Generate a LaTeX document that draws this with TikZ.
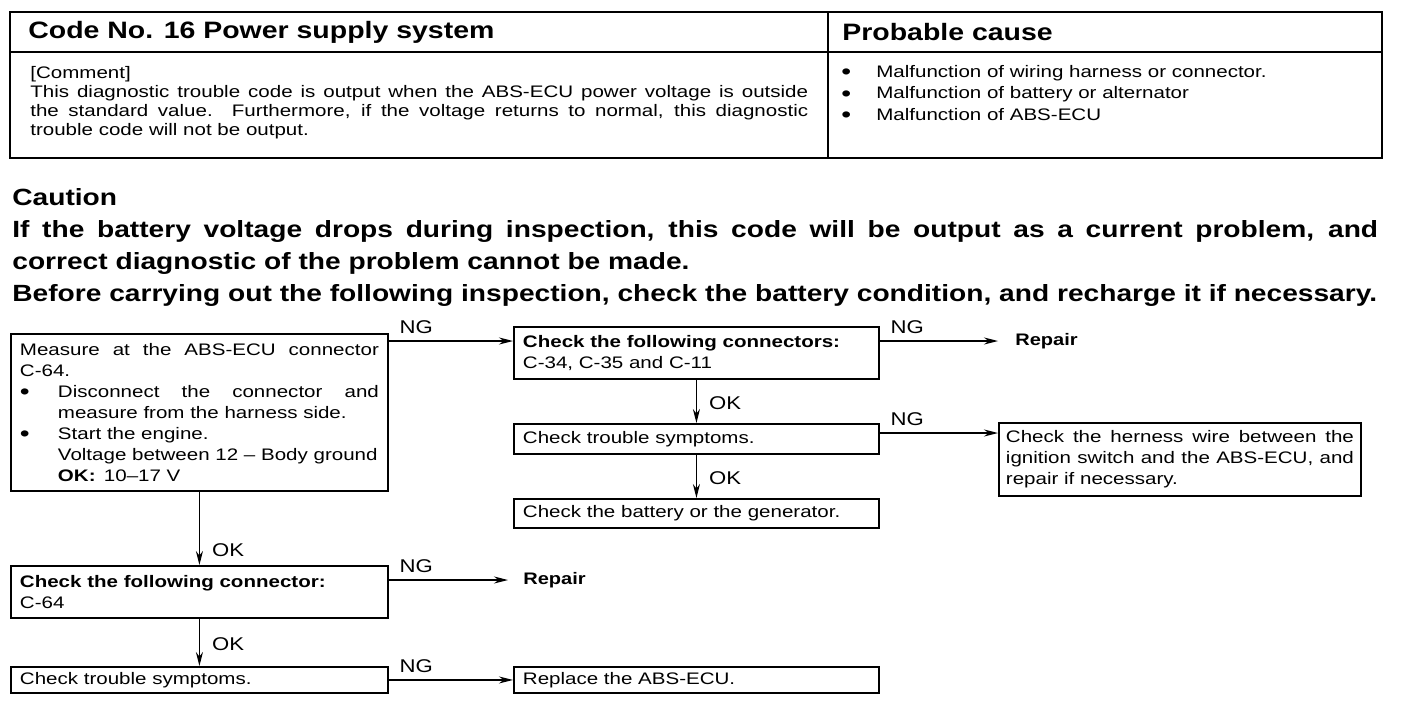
\documentclass[tikz,border=0pt]{standalone}
\usepackage{fontspec}
\setmainfont{Liberation Sans}[FakeStretch=1.23]
\newfontfamily\headfont{Liberation Sans}[FakeStretch=1.2]
\usepackage{tikz}
\usetikzlibrary{positioning,arrows.meta,calc}
\hyphenpenalty=10000
\exhyphenpenalty=10000
\tikzset{
  node-box/.style={draw,line width=1.1pt,anchor=north west,align=justify,
    inner xsep=0.18cm,inner ysep=0.05cm,font=\fontsize{9.5}{12}\selectfont},
  node-text/.style={anchor=north west,inner sep=0pt,align=justify},
  node-end/.style={anchor=west,inner sep=0.04cm,font=\headfont\bfseries\fontsize{9.5}{12}\selectfont},
  lbl-ng/.style={anchor=south west,inner sep=0.04cm,xshift=0.16cm,yshift=0.1cm,
    font=\headfont\fontsize{10.5}{12}\selectfont},
  lbl-ok/.style={anchor=west,inner sep=0.04cm,xshift=0.2cm,yshift=-0.04cm,
    font=\headfont\fontsize{10.5}{12}\selectfont},
  arrow/.style={-{Stealth[length=2.8mm,width=1.4mm]},line width=0.8pt},
  tbl-line/.style={line width=1.2pt},
}
% bullet item with hanging indent
\newcommand{\bdot}{\smash{\fontsize{13}{0}\selectfont\raisebox{-0.2ex}{\textbullet}}}
\newcommand{\bitem}[1]{\par\hangindent=0.76cm\noindent\makebox[0.76cm][l]{\bdot}#1\par}
\newcommand{\bmark}{\makebox[0.7cm][l]{\bdot}}

\begin{document}
\begin{tikzpicture}[x=0.02cm,y=-0.02cm]
  \useasboundingbox (0,0) rectangle (1408,710);

  % table at the top
  \draw[tbl-line] (10,12) rectangle (1382,158);
  \draw[tbl-line] (10,52) -- (1382,52);
  \draw[tbl-line] (828,12) -- (828,158);
  \node[anchor=west,inner sep=0pt,font=\headfont\bfseries\fontsize{13.5}{16}\selectfont]
    (code-head) at (28,32) {Code No. 16 Power supply system};
  \node[anchor=west,inner sep=0pt,font=\headfont\bfseries\fontsize{13.5}{16}\selectfont]
    (cause-head) at (842,32) {Probable cause};
  \node[node-text,text width=15.56cm,font=\fontsize{9.5}{10.8}\selectfont]
    (comment) at (30,66) {[Comment]\newline
    This diagnostic trouble code is output when the ABS-ECU power voltage is outside\linebreak
    the standard value.\ \ Furthermore, if the voltage returns to normal, this diagnostic\linebreak
    trouble code will not be output.};
  \node[node-text,align=left,font=\fontsize{9.5}{12.2}\selectfont]
    (causes) at (841,65) {\bmark Malfunction of wiring harness or connector.\\
    \bmark Malfunction of battery or alternator\\
    \bmark Malfunction of ABS-ECU};

  % caution text
  \node[node-text,text width=27.32cm,font=\headfont\bfseries\fontsize{13.35}{18.2}\selectfont]
    (caution) at (12,188) {Caution\par
    If the battery voltage drops during inspection, this code will be output as a current problem, and\linebreak
    correct diagnostic of the problem cannot be made.\par
    \mbox{Before carrying out the following inspection, check the battery condition, and recharge it if necessary.}};

  % flow chart boxes
  \node[node-box,text width=7.18cm,minimum height=3.14cm] (measure) at (10,333)
    {Measure at the ABS-ECU connector\linebreak C-64.
    \bitem{Disconnect the connector and\linebreak measure from the harness side.}
    \bitem{Start the engine.\newline \mbox{Voltage between 12 -- Body ground}\newline
    \textbf{OK:}\enspace 10--17 V}};
  \node[node-box,text width=6.94cm,minimum height=1.04cm] (chk-conns) at (513,326)
    {\textbf{Check the following connectors:}\newline C-34, C-35 and C-11};
  \node[node-box,text width=6.94cm,minimum height=0.6cm] (sym-a) at (513,423)
    {Check trouble symptoms.};
  \node[node-box,text width=6.94cm,minimum height=0.58cm] (battery) at (513,498)
    {Check the battery or the generator.};
  \node[node-box,inner xsep=0.14cm,text width=6.96cm,minimum height=1.46cm] (harness) at (998,422)
    {Check the herness wire between the\linebreak ignition switch and the ABS-ECU, and\linebreak
    repair if necessary.};
  \node[node-box,text width=7.18cm,minimum height=1.04cm] (chk-c64) at (10,565)
    {\textbf{Check the following connector:}\newline C-64};
  \node[node-box,text width=7.18cm,minimum height=0.52cm] (sym-b) at (10,666)
    {Check trouble symptoms.};
  \node[node-box,text width=6.94cm,minimum height=0.52cm] (replace) at (513,666)
    {Replace the ABS-ECU.};
  \node[node-end] (repair-a) at (1013,341) {Repair};
  \node[node-end] (repair-b) at (521,580) {Repair};

  % connectors
  \coordinate (ng-ab) at ([yshift=-0.3cm]chk-conns.north west);
  \coordinate (ng-ce) at ([yshift=-0.22cm]harness.north west);
  \draw[arrow] (measure.east |- ng-ab) -- (ng-ab) node[lbl-ng,pos=0] {NG};
  \draw[arrow,shorten >=0.3cm] (chk-conns.east |- repair-a) -- (repair-a.west)
    node[lbl-ng,pos=0] {NG};
  \draw[arrow] (chk-conns.south) -- (sym-a.north) node[lbl-ok,midway] {OK};
  \draw[arrow] (sym-a.east |- ng-ce) -- (ng-ce) node[lbl-ng,pos=0] {NG};
  \draw[arrow] (sym-a.south) -- (battery.north) node[lbl-ok,midway] {OK};
  \draw[arrow] (measure.south) -- (chk-c64.north) node[lbl-ok,pos=0.77] {OK};
  \draw[arrow,shorten >=0.26cm] (chk-c64.east |- repair-b) -- (repair-b.west)
    node[lbl-ng,pos=0] {NG};
  \draw[arrow] (chk-c64.south) -- (sym-b.north) node[lbl-ok,midway] {OK};
  \draw[arrow] (sym-b.east) -- (replace.west) node[lbl-ng,pos=0] {NG};
\end{tikzpicture}
\end{document}
